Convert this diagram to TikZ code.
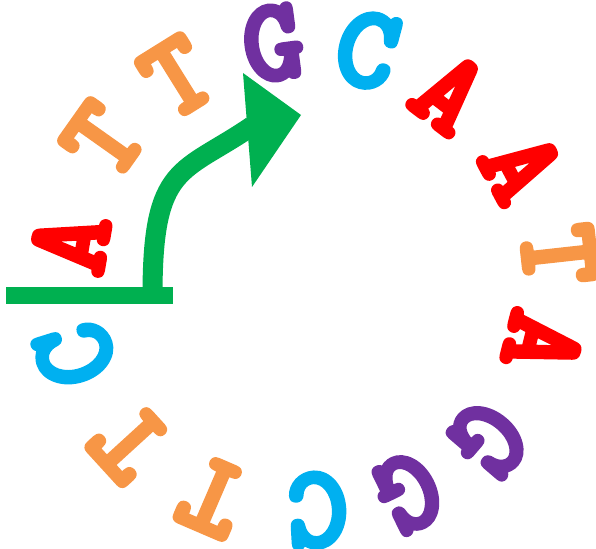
\documentclass[tikz,border=0pt]{standalone}
\usepackage{fontspec}
\newcommand\thk{\special{pdf:literal direct 2 Tr 7 w 1 j 1 J}}
\definecolor{dnared}{HTML}{FF0000}
\definecolor{dnaorange}{HTML}{F79646}
\definecolor{dnapurple}{HTML}{7030A0}
\definecolor{dnacyan}{HTML}{00B0F0}
\definecolor{dnagreen}{HTML}{00B050}
\tikzset{
  letter/.style={inner sep=0pt, font=\ttfamily\fontsize{114}{114}\selectfont},
  bA/.style={letter, text=dnared},
  bC/.style={letter, text=dnacyan},
  bG/.style={letter, text=dnapurple},
  bT/.style={letter, text=dnaorange},
  promoter/.style={draw=dnagreen, line width=17pt},
  shaft/.style={draw=dnagreen, line width=20pt},
}
\begin{document}
\begin{tikzpicture}[x=1pt,y=1pt]
\useasboundingbox (0,0) rectangle (596,548);
\node[bC, rotate=107.4] (l1) at (75,193) {\thk C};
\node[bA, rotate=80.3] (l2) at (70,305) {\thk A};
\node[bT, rotate=54.7] (l3) at (103,408) {\thk T};
\node[bT, rotate=31.9] (l4) at (177,471) {\thk T};
\node[bG, rotate=7.6] (l5) at (273,505) {\thk G};
\node[bC, rotate=-14.9] (l6) at (367,498) {\thk C};
\node[bA, rotate=-37.3] (l7) at (450,455) {\thk A};
\node[bA, rotate=-61.9] (l8) at (522,381) {\thk A};
\node[bT, rotate=-83.7] (l9) at (559,293) {\thk T};
\node[bA, rotate=-104.1] (l10) at (543,205) {\thk A};
\node[bG, rotate=-130.6] (l11) at (488,108) {\thk G};
\node[bG, rotate=-153.9] (l12) at (408,55) {\thk G};
\node[bC, rotate=-176.7] (l13) at (318,38) {\thk C};
\node[bT, rotate=156.7] (l14) at (213,51) {\thk T};
\node[bT, rotate=132.4] (l15) at (130,105) {\thk T};
% promoter arrow
\coordinate (p0) at (6,252.5);
\coordinate (p1) at (173,252.5);
\coordinate (s0) at (152.5,253);
\coordinate (s1) at (252,422);
\coordinate (h1) at (243,475);
\coordinate (h2) at (301,433);
\coordinate (h3) at (252,361);
\draw[promoter] (p0) -- (p1);
\draw[shaft] (s0) .. controls (152.5,385) and (182,374) .. (s1);
\fill[dnagreen] (h1) -- (h2) -- (h3) -- cycle;
\end{tikzpicture}
\end{document}
